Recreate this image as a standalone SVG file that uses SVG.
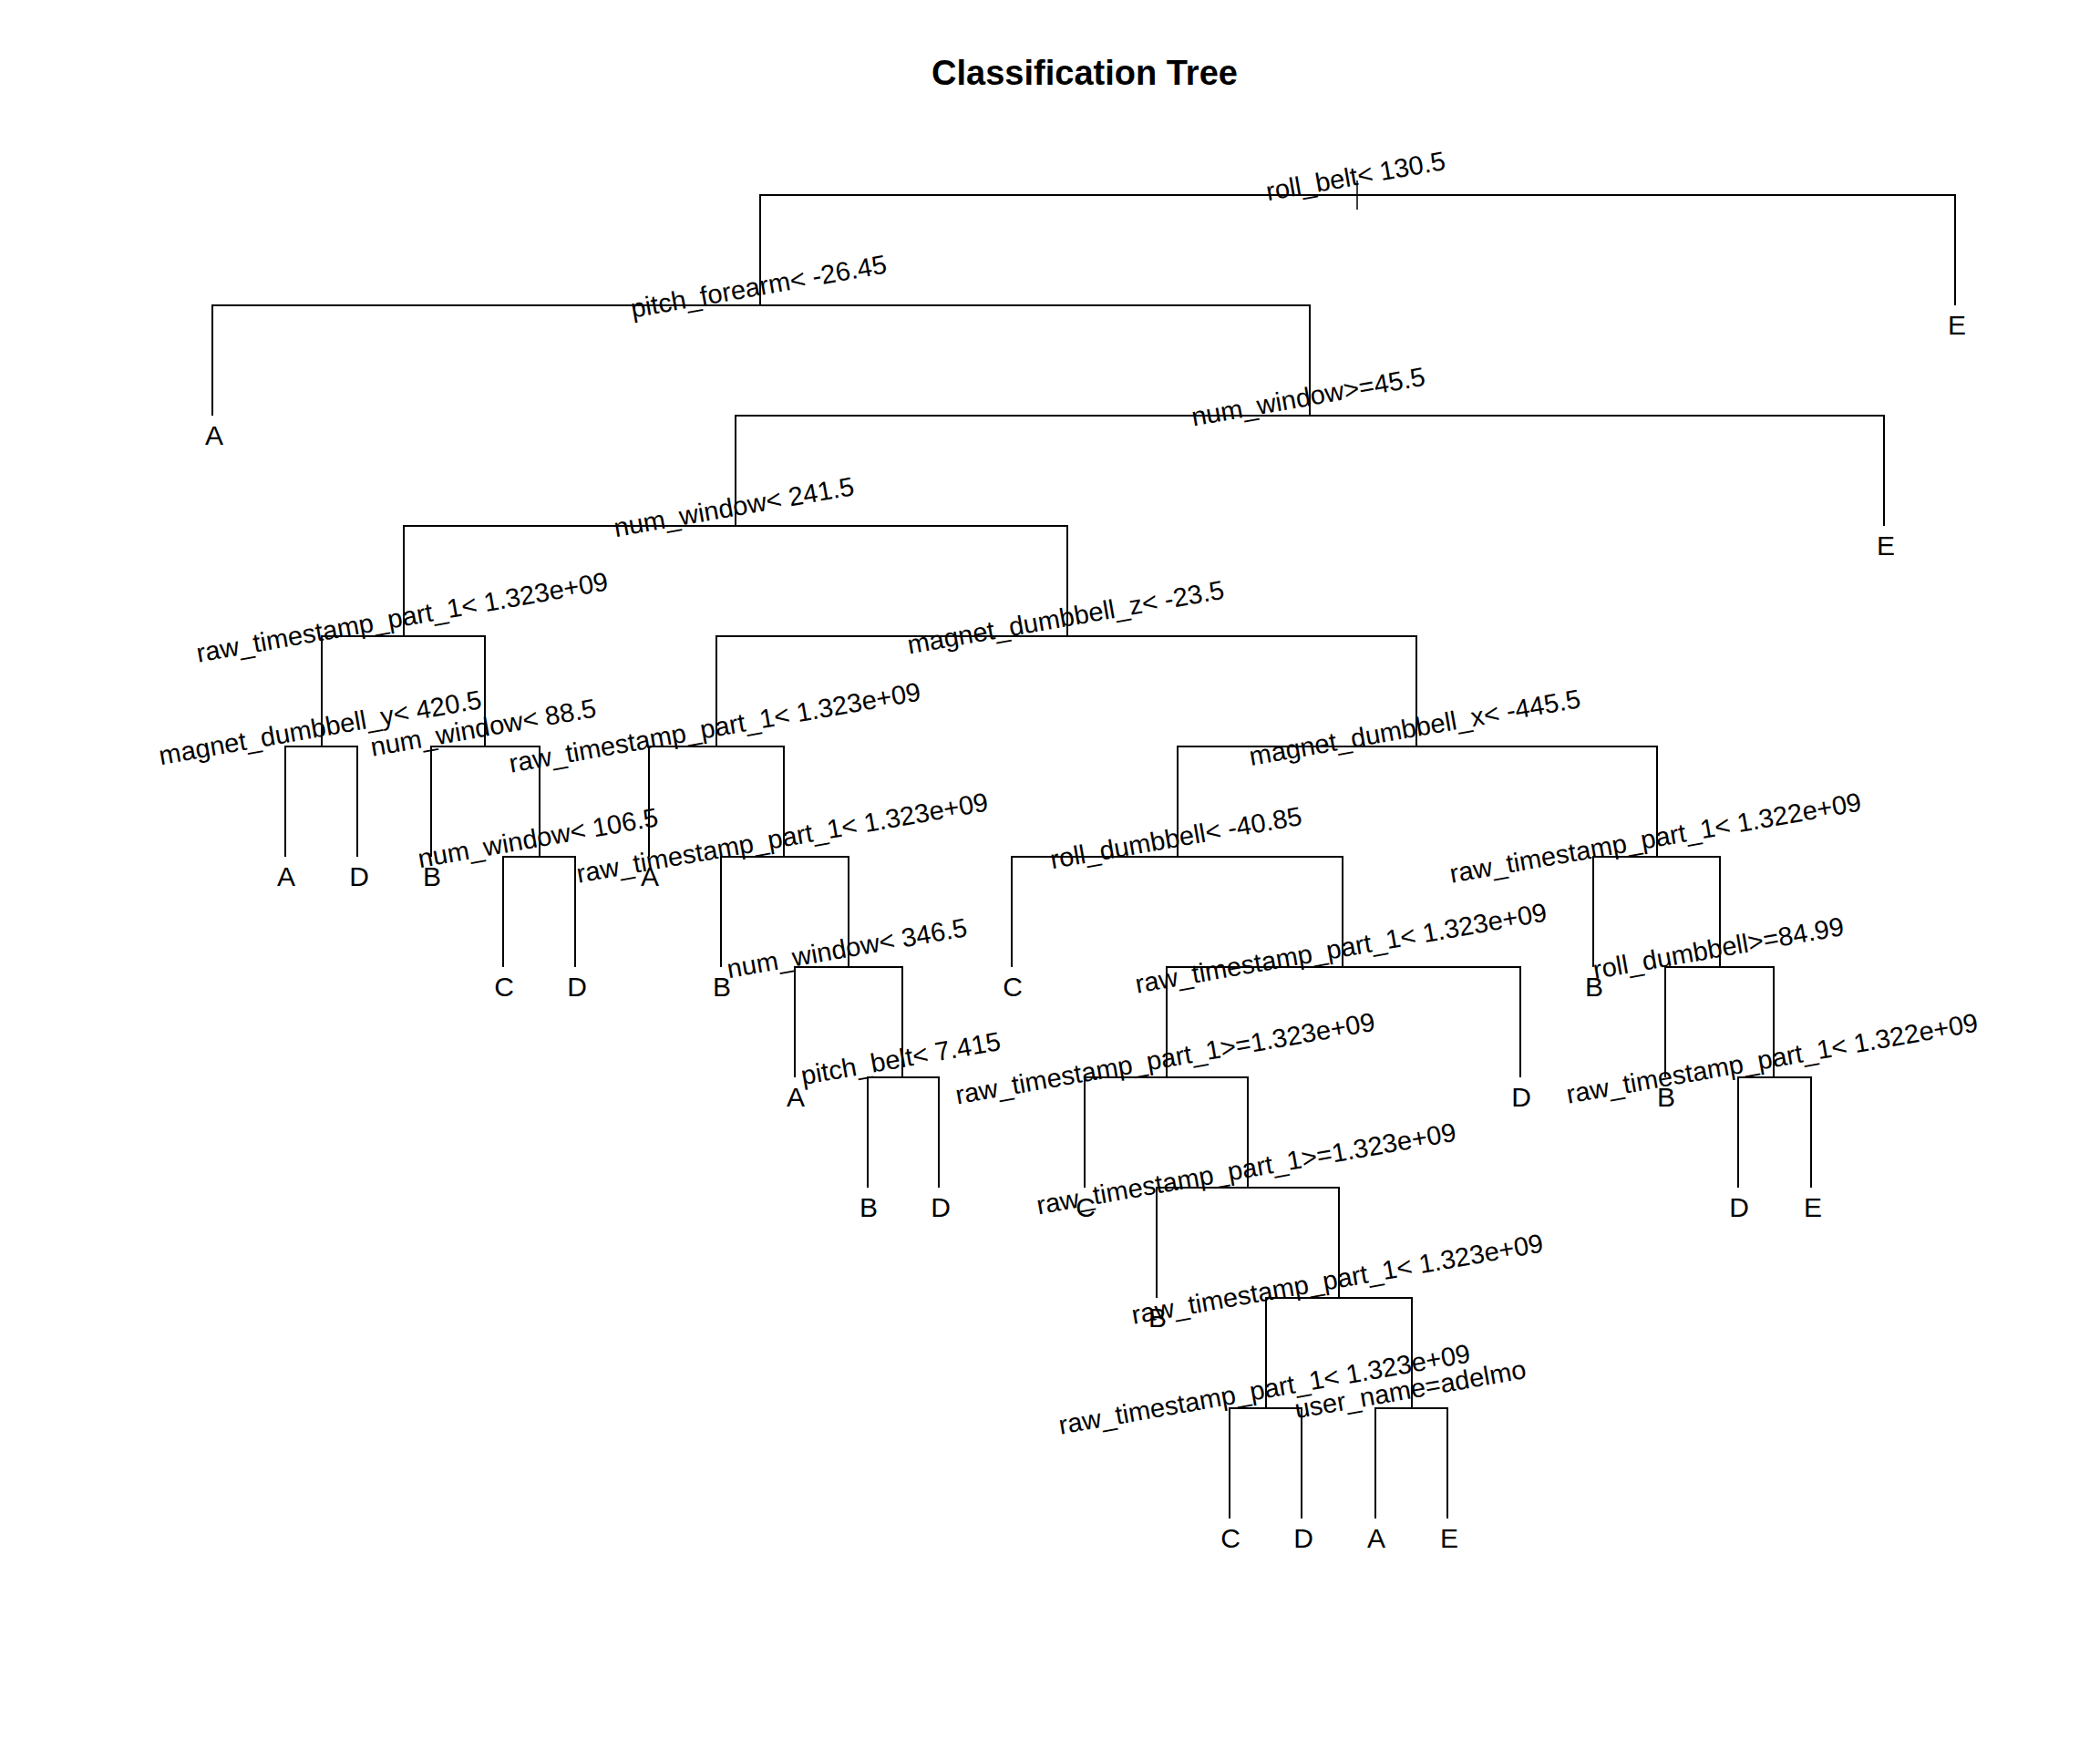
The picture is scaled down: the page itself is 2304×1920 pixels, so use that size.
<svg xmlns="http://www.w3.org/2000/svg" width="2304" height="1920" viewBox="0 0 2304 1920">
<style>
.bg{fill:#ffffff}
.edge{fill:none;stroke:#000000;stroke-width:2}
.tick{stroke:#000000;stroke-width:1.5}
.split{font-family:"Liberation Sans",Arial,sans-serif;font-size:29px;fill:#000000;text-anchor:middle}
.leaf{font-family:"Liberation Sans",Arial,sans-serif;font-size:30px;fill:#000000;text-anchor:middle}
.title{font-family:"Liberation Sans",Arial,sans-serif;font-size:38px;font-weight:bold;fill:#000000;text-anchor:middle}
</style>
<rect class="bg" x="0" y="0" width="2304" height="1920"/>
<text class="title" x="1190" y="93">Classification Tree</text>

<g id="connectors">
<path class="edge" d="M834 335V214H2145V335"/>
<line class="tick" x1="1489" y1="198" x2="1489" y2="230"/>
<path class="edge" d="M233 456V335H1437V456"/>
<path class="edge" d="M807 577V456H2067V577"/>
<path class="edge" d="M443 698V577H1171V698"/>
<path class="edge" d="M353 819V698H532V819"/>
<path class="edge" d="M313 940V819H392V940"/>
<path class="edge" d="M473 940V819H592V940"/>
<path class="edge" d="M552 1061V940H631V1061"/>
<path class="edge" d="M786 819V698H1554V819"/>
<path class="edge" d="M712 940V819H860V940"/>
<path class="edge" d="M791 1061V940H931V1061"/>
<path class="edge" d="M872 1182V1061H990V1182"/>
<path class="edge" d="M952 1303V1182H1030V1303"/>
<path class="edge" d="M1292 940V819H1818V940"/>
<path class="edge" d="M1110 1061V940H1473V1061"/>
<path class="edge" d="M1280 1182V1061H1668V1182"/>
<path class="edge" d="M1190 1303V1182H1369V1303"/>
<path class="edge" d="M1269 1424V1303H1469V1424"/>
<path class="edge" d="M1389 1545V1424H1549V1545"/>
<path class="edge" d="M1349 1666V1545H1428V1666"/>
<path class="edge" d="M1509 1666V1545H1588V1666"/>
<path class="edge" d="M1748 1061V940H1887V1061"/>
<path class="edge" d="M1827 1182V1061H1946V1182"/>
<path class="edge" d="M1907 1303V1182H1987V1303"/>
</g>

<g id="n1"><text class="split" transform="translate(1489,203) rotate(-10)">roll_belt&lt; 130.5</text></g>
<g id="n2"><text class="split" transform="translate(834,324) rotate(-10)">pitch_forearm&lt; -26.45</text></g>
<g id="n3"><text class="split" transform="translate(1437,445) rotate(-10)">num_window&gt;=45.5</text></g>
<g id="n4"><text class="split" transform="translate(807,566) rotate(-10)">num_window&lt; 241.5</text></g>
<g id="n5"><text class="split" transform="translate(443,687) rotate(-10)">raw_timestamp_part_1&lt; 1.323e+09</text></g>
<g id="n6"><text class="split" transform="translate(353,808) rotate(-10)">magnet_dumbbell_y&lt; 420.5</text></g>
<g id="n7"><text class="split" transform="translate(532,808) rotate(-10)">num_window&lt; 88.5</text></g>
<g id="n8"><text class="split" transform="translate(592,929) rotate(-10)">num_window&lt; 106.5</text></g>
<g id="n9"><text class="split" transform="translate(1171,687) rotate(-10)">magnet_dumbbell_z&lt; -23.5</text></g>
<g id="n10"><text class="split" transform="translate(786,808) rotate(-10)">raw_timestamp_part_1&lt; 1.323e+09</text></g>
<g id="n11"><text class="split" transform="translate(860,929) rotate(-10)">raw_timestamp_part_1&lt; 1.323e+09</text></g>
<g id="n12"><text class="split" transform="translate(931,1050) rotate(-10)">num_window&lt; 346.5</text></g>
<g id="n13"><text class="split" transform="translate(990,1171) rotate(-10)">pitch_belt&lt; 7.415</text></g>
<g id="n14"><text class="split" transform="translate(1554,808) rotate(-10)">magnet_dumbbell_x&lt; -445.5</text></g>
<g id="n15"><text class="split" transform="translate(1292,929) rotate(-10)">roll_dumbbell&lt; -40.85</text></g>
<g id="n16"><text class="split" transform="translate(1473,1050) rotate(-10)">raw_timestamp_part_1&lt; 1.323e+09</text></g>
<g id="n17"><text class="split" transform="translate(1280,1171) rotate(-10)">raw_timestamp_part_1&gt;=1.323e+09</text></g>
<g id="n18"><text class="split" transform="translate(1369,1292) rotate(-10)">raw_timestamp_part_1&gt;=1.323e+09</text></g>
<g id="n19"><text class="split" transform="translate(1469,1413) rotate(-10)">raw_timestamp_part_1&lt; 1.323e+09</text></g>
<g id="n20"><text class="split" transform="translate(1389,1534) rotate(-10)">raw_timestamp_part_1&lt; 1.323e+09</text></g>
<g id="n21"><text class="split" transform="translate(1549,1534) rotate(-10)">user_name=adelmo</text></g>
<g id="n22"><text class="split" transform="translate(1818,929) rotate(-10)">raw_timestamp_part_1&lt; 1.322e+09</text></g>
<g id="n23"><text class="split" transform="translate(1887,1050) rotate(-10)">roll_dumbbell&gt;=84.99</text></g>
<g id="n24"><text class="split" transform="translate(1946,1171) rotate(-10)">raw_timestamp_part_1&lt; 1.322e+09</text></g>

<g id="leaf1"><text class="leaf" x="2147" y="367">E</text></g>
<g id="leaf2"><text class="leaf" x="235" y="488">A</text></g>
<g id="leaf3"><text class="leaf" x="2069" y="609">E</text></g>
<g id="leaf4"><text class="leaf" x="314" y="972">A</text></g>
<g id="leaf5"><text class="leaf" x="394" y="972">D</text></g>
<g id="leaf6"><text class="leaf" x="474" y="972">B</text></g>
<g id="leaf7"><text class="leaf" x="553" y="1093">C</text></g>
<g id="leaf8"><text class="leaf" x="633" y="1093">D</text></g>
<g id="leaf9"><text class="leaf" x="713" y="972">A</text></g>
<g id="leaf10"><text class="leaf" x="792" y="1093">B</text></g>
<g id="leaf11"><text class="leaf" x="873" y="1214">A</text></g>
<g id="leaf12"><text class="leaf" x="953" y="1335">B</text></g>
<g id="leaf13"><text class="leaf" x="1032" y="1335">D</text></g>
<g id="leaf14"><text class="leaf" x="1111" y="1093">C</text></g>
<g id="leaf15"><text class="leaf" x="1669" y="1214">D</text></g>
<g id="leaf16"><text class="leaf" x="1191" y="1335">C</text></g>
<g id="leaf17"><text class="leaf" x="1270" y="1456">B</text></g>
<g id="leaf18"><text class="leaf" x="1350" y="1698">C</text></g>
<g id="leaf19"><text class="leaf" x="1430" y="1698">D</text></g>
<g id="leaf20"><text class="leaf" x="1510" y="1698">A</text></g>
<g id="leaf21"><text class="leaf" x="1590" y="1698">E</text></g>
<g id="leaf22"><text class="leaf" x="1749" y="1093">B</text></g>
<g id="leaf23"><text class="leaf" x="1828" y="1214">B</text></g>
<g id="leaf24"><text class="leaf" x="1908" y="1335">D</text></g>
<g id="leaf25"><text class="leaf" x="1989" y="1335">E</text></g>
</svg>
